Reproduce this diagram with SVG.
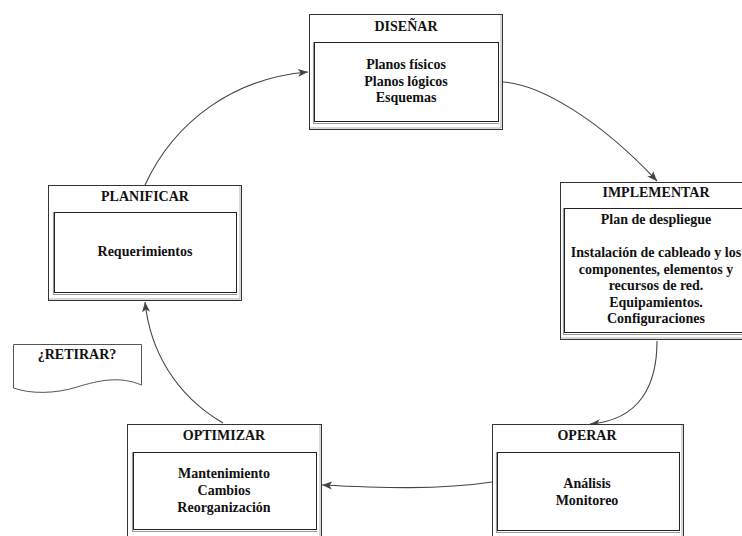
<svg xmlns="http://www.w3.org/2000/svg" width="742" height="536" viewBox="0 0 742 536">
  <style>
    .frame { fill: #ffffff; stroke: #333333; stroke-width: 1; }
    .frame-in { fill: none; stroke: #b0b0b0; stroke-width: 1; }
    .panel { fill: #ffffff; stroke: #222222; stroke-width: 1; }
    .panel-sh { fill: none; stroke: #9a9a9a; stroke-width: 1.2; }
    .title { font-family: "Liberation Serif", "Times New Roman", serif; font-weight: bold; font-size: 14px; fill: #111111; text-anchor: middle; }
    .body { font-family: "Liberation Serif", "Times New Roman", serif; font-weight: bold; font-size: 14px; fill: #111111; text-anchor: middle; }
    .link { fill: none; stroke: #444444; stroke-width: 1.1; marker-end: url(#head); }
    .doc { fill: #ffffff; stroke: #555555; stroke-width: 1; }
  </style>
  <defs>
    <marker id="head" viewBox="0 0 10 10" refX="10" refY="5" markerWidth="10" markerHeight="10" markerUnits="userSpaceOnUse" orient="auto">
      <path d="M0,1 L10,5 L0,9 L2.5,5 Z" fill="#444444"/>
    </marker>
  </defs>
  <rect width="742" height="536" fill="#ffffff"/>

  <!-- connectors of the cycle -->
  <g id="connectors">
    <path class="link" d="M145,185 C175,120 235,78 308,72"/>
    <path class="link" d="M503,82 C540,84 600,120 657,181"/>
    <path class="link" d="M657,341 C657,385 640,420 590,424"/>
    <path class="link" d="M492,482 C440,490 380,488 322,485"/>
    <path class="link" d="M223,423 C175,395 150,350 145,302"/>
  </g>

  <g id="disenar">
    <rect class="frame" x="309.5" y="14.5" width="193" height="115"/>
    <path class="frame-in" d="M501,15 V128 H310"/>
    <path class="panel-sh" d="M313.5,42 V123.5 H499"/>
    <rect class="panel" x="314.5" y="42.5" width="184" height="79"/>
    <text class="title" x="406" y="31">DISEÑAR</text>
    <text class="body" x="406" y="69">Planos físicos</text>
    <text class="body" x="406" y="85.5">Planos lógicos</text>
    <text class="body" x="406" y="102">Esquemas</text>
  </g>

  <g id="implementar">
    <rect class="frame" x="560.5" y="182.5" width="200" height="157"/>
    <path class="frame-in" d="M561,338 H760"/>
    <path class="panel-sh" d="M563.5,208 V334.5 H760"/>
    <rect class="panel" x="564.5" y="208.5" width="195" height="124"/>
    <text class="title" x="656" y="197">IMPLEMENTAR</text>
    <text class="body" x="656" y="224">Plan de despliegue</text>
    <text class="body" x="656" y="257">Instalación de cableado y los</text>
    <text class="body" x="656" y="273.5">componentes, elementos y</text>
    <text class="body" x="656" y="290">recursos de red.</text>
    <text class="body" x="656" y="306.5">Equipamientos.</text>
    <text class="body" x="656" y="323">Configuraciones</text>
  </g>

  <g id="planificar">
    <rect class="frame" x="48.5" y="185.5" width="193" height="115"/>
    <path class="frame-in" d="M240,186 V299 H49"/>
    <path class="panel-sh" d="M53.5,212 V294.5 H237"/>
    <rect class="panel" x="54.5" y="212.5" width="182" height="80"/>
    <text class="title" x="145" y="201">PLANIFICAR</text>
    <text class="body" x="145" y="256">Requerimientos</text>
  </g>

  <g id="retirar">
    <path class="doc" d="M13.5,344.5 H141.5 V385 C120,376 100,380 77,387 C55,394 30,394 13.5,388 Z"/>
    <text class="body" x="77" y="359">¿RETIRAR?</text>
  </g>

  <g id="optimizar">
    <rect class="frame" x="127.5" y="424.5" width="194" height="130"/>
    <path class="frame-in" d="M320,425 V545"/>
    <path class="panel-sh" d="M132.5,452 V531.5 H317"/>
    <rect class="panel" x="133.5" y="452.5" width="183" height="77"/>
    <text class="title" x="224" y="440">OPTIMIZAR</text>
    <text class="body" x="224" y="478">Mantenimiento</text>
    <text class="body" x="224" y="495">Cambios</text>
    <text class="body" x="224" y="512">Reorganización</text>
  </g>

  <g id="operar">
    <rect class="frame" x="492.5" y="424.5" width="191" height="130"/>
    <path class="frame-in" d="M682,425 V545"/>
    <path class="panel-sh" d="M496.5,452 V532.5 H680"/>
    <rect class="panel" x="497.5" y="452.5" width="182" height="78"/>
    <text class="title" x="587" y="440">OPERAR</text>
    <text class="body" x="587" y="488">Análisis</text>
    <text class="body" x="587" y="505">Monitoreo</text>
  </g>
</svg>
